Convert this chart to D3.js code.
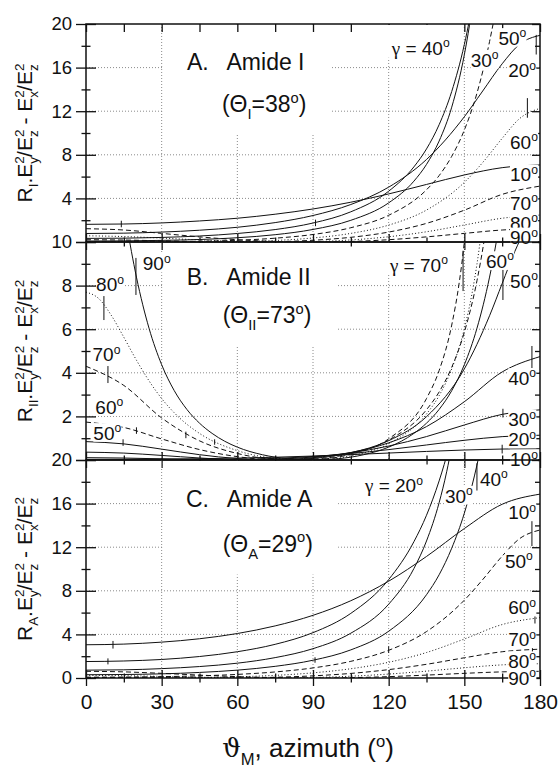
<!DOCTYPE html>
<html>
<head>
<meta charset="utf-8">
<script src="https://cdn.jsdelivr.net/npm/d3@7"></script>
<style>
  body { margin: 0; background: #fff; }
  svg { display: block; font-family: "Liberation Sans", Arial, sans-serif; }
</style>
</head>
<body>
<div id="chart"></div>
<script>
// ---- values: [azimuth (deg), ratio] ----

// A. Amide I, one series per helix tilt gamma
const amideI_g10 = [[0,1.62],[15,1.65],[30,1.75],[45,1.93],[60,2.18],[75,2.55],[90,3.03],[105,3.65],[120,4.41],[135,5.28],[150,6.15],[165,6.82],[180,7.07]];
const amideI_g20 = [[0,.78],[15,.81],[30,.91],[45,1.08],[60,1.35],[75,1.78],[90,2.43],[105,3.44],[120,5.03],[135,7.57],[150,11.49],[157,13.76],[165,16.35],[172,18.16],[180,18.96]];
const amideI_g30 = [[0,.33],[15,.35],[30,.42],[45,.55],[60,.78],[75,1.14],[90,1.74],[105,2.77],[120,4.66],[130,6.89],[135,8.54],[140,10.76],[145,13.81],[150,18.12],[152,20.35],[155,24.4]];
const amideI_g40 = [[0,.09],[15,.10],[30,.15],[45,.23],[60,.39],[75,.67],[90,1.15],[105,1.99],[120,3.59],[130,5.58],[135,7.12],[140,9.26],[145,12.37],[150,17.18],[152,19.83],[155,25.0]];
const amideI_g50 = [[0,.002],[15,.005],[30,.02],[45,.06],[60,.16],[75,.35],[90,.69],[105,1.31],[120,2.45],[135,4.79],[140,6.09],[145,7.86],[150,10.27],[155,13.65],[160,18.39],[162,20.73],[165,24.8]];
const amideI_g60 = [[0,.04],[15,.03],[30,.01],[45,0],[60,.03],[75,.14],[90,.37],[105,.79],[120,1.55],[135,2.93],[150,5.47],[158,7.49],[165,9.51],[172,11.34],[180,12.26]];
const amideI_g70 = [[0,.21],[15,.18],[30,.11],[45,.04],[60,0],[75,.03],[90,.16],[105,.43],[120,.91],[135,1.71],[150,2.92],[165,4.37],[180,5.13]];
const amideI_g80 = [[0,.57],[15,.50],[30,.36],[45,.19],[60,.06],[75,0],[90,.04],[105,.19],[120,.48],[135,.94],[150,1.56],[165,2.18],[180,2.47]];
const amideI_g90 = [[0,1.22],[15,1.10],[30,.79],[45,.47],[60,.21],[75,.05],[90,0],[105,.05],[120,.21],[135,.47],[150,.79],[165,1.10],[180,1.22]];

// B. Amide II
const amideII_g10 = [[0,.03],[15,.033],[30,.043],[45,.06],[60,.088],[75,.128],[90,.181],[105,.246],[120,.319],[135,.393],[150,.458],[165,.503],[180,.519]];
const amideII_g20 = [[0,.006],[15,.003],[30,0],[45,.004],[60,.025],[75,.075],[90,.163],[105,.297],[120,.476],[135,.689],[150,.904],[165,1.072],[180,1.136]];
const amideII_g30 = [[0,.107],[15,.091],[30,.053],[45,.015],[60,0],[75,.034],[90,.137],[105,.331],[120,.64],[135,1.075],[150,1.606],[165,2.093],[180,2.301]];
const amideII_g40 = [[0,.36],[15,.317],[30,.21],[45,.093],[60,.014],[75,.008],[90,.106],[105,.344],[120,.787],[135,1.533],[150,2.673],[165,4.039],[180,4.743]];
const amideII_g50 = [[0,.843],[15,.739],[30,.498],[45,.244],[60,.066],[75,0],[90,.073],[105,.333],[120,.887],[135,1.987],[150,4.179],[160,6.617],[165,8.096],[170,9.561],[172,10.07],[175,10.67]];
const amideII_g60 = [[0,1.739],[15,1.493],[30,.967],[45,.479],[60,.155],[75,.009],[90,.044],[105,.299],[120,.915],[135,2.306],[140,3.119],[145,4.252],[150,5.858],[155,8.22],[158,10.17],[160,11.76]];
const amideII_g70 = [[0,4.3],[15,3.42],[30,1.93],[45,.88],[60,.3],[75,.04],[90,.02],[105,.27],[120,.97],[135,2.82],[140,4.1],[145,6.19],[148,8.16],[150,10.0],[152,12.5]];
const amideII_g80 = [[0,7.7],[5,7.41],[10,6.64],[15,5.63],[20,4.58],[25,3.63],[30,2.82],[37,1.94],[45,1.22],[60,.43],[75,.08],[90,.005],[105,.19],[120,.75],[135,2.11],[140,2.95],[145,4.18],[150,6.02],[153,7.61],[155,8.98],[157,10.67]];
const amideII_g90 = [[15,11.62],[18,9.57],[20,8.39],[25,6.04],[30,4.37],[35,3.18],[40,2.32],[45,1.69],[50,1.22],[55,.86],[60,.59],[70,.24],[75,.13],[80,.06],[90,0],[100,.06],[105,.13],[110,.24],[120,.59],[125,.86],[130,1.22],[135,1.69],[140,2.32],[145,3.18],[150,4.37],[155,6.04],[160,8.39],[162,9.57],[165,11.62]];

// C. Amide A
const amideA_g10 = [[0,3.05],[15,3.11],[30,3.29],[45,3.6],[60,4.08],[75,4.78],[90,5.75],[105,7.09],[120,8.88],[135,11.15],[150,13.71],[165,15.94],[180,16.87]];
const amideA_g20 = [[0,1.51],[15,1.56],[30,1.7],[45,1.97],[60,2.41],[75,3.09],[90,4.16],[105,5.93],[120,9.03],[130,12.5],[135,14.93],[140,18.08],[142,19.58],[145,22.15]];
const amideA_g30 = [[0,.72],[15,.75],[30,.86],[45,1.05],[60,1.36],[75,1.87],[90,2.69],[105,4.11],[120,6.77],[130,10.04],[135,12.57],[140,16.08],[143,18.92],[145,21.23]];
const amideA_g40 = [[0,.3],[15,.32],[30,.38],[45,.51],[60,.72],[75,1.07],[90,1.63],[105,2.58],[120,4.29],[135,7.64],[140,9.47],[145,11.91],[150,15.12],[153,17.6],[155,19.53],[157,21.67]];
const amideA_g50 = [[0,.076],[15,.086],[30,.123],[45,.197],[60,.33],[75,.555],[90,.924],[105,1.53],[120,2.54],[135,4.26],[150,7.14],[157,8.95],[165,11.18],[172,12.8],[180,13.58]];
const amideA_g60 = [[0,.001],[15,.002],[30,.011],[45,.04],[60,.109],[75,.242],[90,.473],[105,.849],[120,1.442],[135,2.337],[150,3.577],[165,4.904],[180,5.536]];
const amideA_g70 = [[0,.05],[15,.041],[30,.018],[45,.001],[60,.01],[75,.068],[90,.197],[105,.421],[120,.769],[135,1.257],[150,1.855],[165,2.409],[180,2.647]];
const amideA_g80 = [[0,.237],[15,.212],[30,.147],[45,.072],[60,.015],[75,.002],[90,.047],[105,.164],[120,.36],[135,.63],[150,.939],[165,1.204],[180,1.311]];
const amideA_g90 = [[0,.614],[15,.562],[30,.428],[45,.266],[60,.125],[75,.032],[90,0],[105,.032],[120,.125],[135,.266],[150,.428],[165,.562],[180,.614]];

// short vertical range bars drawn on some curves: [azimuth, low, high]
const marksA = [[14,1.35,1.95],[91,1.45,2.05],[175,11.4,13.2],[178.5,17.2,19.0]];
const marksB = [[19.8,7.57,9.27],[7.1,6.42,7.52],[8.7,3.53,4.31],[20,1.2,1.5],[14.7,.65,.95],[39.6,1.0,1.3],[51,.7,.95],[149.5,7.75,9.6],[165.3,7.34,8.8],[176.8,4.22,5.23],[165.3,1.95,2.35],[165,.3,.7]];
const marksC = [[10.7,2.7,3.4],[8.7,1.25,1.8],[90.8,1.4,1.9],[120,2.3,2.9],[155,17.2,19.7],[176.8,12.1,15.8],[178,5.0,5.95],[177,2.2,2.8]];

// curve labels: [text, azimuth of left edge, ratio at baseline]
const labelsA = [['γ = 40',121.2,17.18],['30',152.5,16.1],['50',163.5,18.1],['20',167.4,15.1],['60',168.1,8.56],['10',168.1,5.56],['70',168.1,2.94],['80',168.1,1.1],['90',168.1,-.2]];
const labelsB = [['γ = 70',120.5,8.64],['60',158.6,8.81],['50',168.1,7.89],['40',167.4,3.45],['30',167.4,1.55],['20',167.4,.63],['10',168.1,-.29],
                 ['90',22.5,8.7],['80',4.0,7.74],['70',2.6,4.53],['60',3.7,2.12],['50',2.9,.93]];
const labelsC = [['γ = 20',110.6,17.02],['30',142.3,16.1],['40',156.2,17.64],['10',167.4,14.57],['50',166.1,10.12],['60',167.4,5.83],['70',167.4,2.92],['80',167.4,.92],['90',167.4,-.61]];

const gammas = [10, 20, 30, 40, 50, 60, 70, 80, 90];
const xTicks = [0, 30, 60, 90, 120, 150, 180];
const xMinorTicks = [15, 45, 75, 105, 135, 165];

// line style per gamma
const styleAC = {10:'solid',20:'solid',30:'solid',40:'solid',50:'dashed',60:'dotted',70:'dashed',80:'dotted',90:'dashed'};
const styleB  = {10:'solid',20:'solid',30:'solid',40:'solid',50:'solid',60:'dashed',70:'dashed',80:'dotted',90:'solid'};
const dashes = {solid: null, dashed: '5,3', dotted: '1,2.2'};

const panels = [
  {key:'A', name:'A.   Amide I', sub:'I', theta:'38', yMax:20, major:4, minor:2, style:styleAC,
   series:[amideI_g10,amideI_g20,amideI_g30,amideI_g40,amideI_g50,amideI_g60,amideI_g70,amideI_g80,amideI_g90],
   labels:labelsA, marks:marksA, titlePos:[40,15.8], thetaPos:[53.9,11.93]},
  {key:'B', name:'B.   Amide II', sub:'II', theta:'73', yMax:10, major:2, minor:1, style:styleB,
   series:[amideII_g10,amideII_g20,amideII_g30,amideII_g40,amideII_g50,amideII_g60,amideII_g70,amideII_g80,amideII_g90],
   labels:labelsB, marks:marksB, titlePos:[39.9,8.03], thetaPos:[54.2,6.27]},
  {key:'C', name:'C.   Amide A', sub:'A', theta:'29', yMax:20, major:4, minor:2, style:styleAC,
   series:[amideA_g10,amideA_g20,amideA_g30,amideA_g40,amideA_g50,amideA_g60,amideA_g70,amideA_g80,amideA_g90],
   labels:labelsC, marks:marksC, titlePos:[39.6,15.73], thetaPos:[54.2,11.59]}
];

// ---- layout ----
const width = 558, height = 770;
const plotL = 86, plotR = 540, plotTop = 24, panelH = 218;
const ink = '#111';

const svg = d3.select('#chart').append('svg')
  .attr('width', width).attr('height', height)
  .attr('viewBox', `0 0 ${width} ${height}`);

const x = d3.scaleLinear([0, 180], [plotL, plotR]);

// text with sub/superscripts; segs = [[str, kind, family]]
// kind: n normal, sub, sup, stack (subscript placed under the previous superscript)
function richText(parent, segs, size) {
  const t = parent.append('text').attr('font-size', size).style('white-space', 'pre').attr('fill', ink);
  let cur = 0, prev = null;
  segs.forEach(([str, kind, family]) => {
    const s = kind === 'n' ? size : size * 0.64;
    const off = kind === 'sup' ? -0.4 * size : (kind === 'sub' || kind === 'stack') ? 0.3 * size : 0;
    const ts = t.append('tspan').attr('font-size', s).attr('dy', off - cur).text(str);
    if (family) ts.attr('font-family', family);
    if (kind === 'stack' && prev) ts.attr('dx', -prev.node().getComputedTextLength());
    cur = off; prev = ts;
  });
  return t;
}

function degreeSegs(str) {
  if (str.startsWith('γ')) return [['γ', 'n', 'Liberation Serif'], [str.slice(1), 'n'], ['o', 'sup']];
  return [[str, 'n'], ['o', 'sup']];
}

function drawPanel(p, idx) {
  const top = plotTop + idx * panelH, bottom = top + panelH;
  const isLast = idx === panels.length - 1;
  const y = d3.scaleLinear([0, p.yMax], [bottom, top]);
  const g = svg.append('g').attr('class', 'panel-' + p.key);

  const clipId = 'clip-' + p.key;
  svg.append('clipPath').attr('id', clipId).append('rect')
    .attr('x', plotL).attr('y', top).attr('width', plotR - plotL).attr('height', panelH);

  // dotted grid
  const grid = g.append('g').attr('stroke', '#8a8a8a').attr('stroke-width', 1).attr('stroke-dasharray', '1,2');
  grid.selectAll('.gv').data(xTicks.slice(1, -1)).join('line').attr('class', 'gv')
    .attr('x1', d => x(d)).attr('x2', d => x(d)).attr('y1', top).attr('y2', bottom);
  grid.selectAll('.gh').data(d3.range(p.major, p.yMax, p.major)).join('line').attr('class', 'gh')
    .attr('x1', plotL).attr('x2', plotR).attr('y1', d => y(d)).attr('y2', d => y(d));

  const cover = g.append('g'); // white boxes behind the panel title

  // curves
  const lineGen = d3.line().x(d => x(d[0])).y(d => y(d[1])).curve(d3.curveMonotoneX);
  const curves = p.series.map((pts, i) => ({gamma: gammas[i], pts}));
  g.append('g').attr('clip-path', `url(#${clipId})`)
    .selectAll('path').data(curves).join('path')
    .attr('d', d => lineGen(d.pts))
    .attr('fill', 'none').attr('stroke', ink).attr('stroke-width', 1)
    .attr('stroke-dasharray', d => dashes[p.style[d.gamma]]);

  // range bars
  g.append('g').selectAll('line').data(p.marks).join('line')
    .attr('x1', d => x(d[0])).attr('x2', d => x(d[0]))
    .attr('y1', d => y(d[1])).attr('y2', d => y(d[2]))
    .attr('stroke', ink).attr('stroke-width', 1);

  // axes: left (crossing ticks), right (inner ticks), bottom (crossing), top of first panel
  const yMajor = d3.range(0, p.yMax + 0.001, p.major);
  const yMinor = d3.range(p.minor, p.yMax, p.major);
  // the zero of an upper panel sits under the top label of the panel below, so it is not repeated
  const yFmt = d => (d === 0 && !isLast) ? '' : d;
  const left = g.append('g').attr('transform', `translate(${plotL},0)`)
    .call(d3.axisLeft(y).tickValues(yMajor).tickFormat(yFmt).tickSizeInner(10).tickSizeOuter(0).tickPadding(4));
  left.selectAll('.tick line').attr('x1', 10);
  left.selectAll('text').attr('font-size', 18.5).attr('font-family', 'Liberation Sans, Arial, sans-serif').attr('fill', ink);
  const leftMinor = g.append('g').attr('transform', `translate(${plotL},0)`)
    .call(d3.axisLeft(y).tickValues(yMinor).tickFormat('').tickSizeInner(4.5).tickSizeOuter(0));
  leftMinor.selectAll('.tick line').attr('x1', 4.5);

  g.append('g').attr('transform', `translate(${plotR},0)`)
    .call(d3.axisRight(y).tickValues(yMajor).tickFormat('').tickSizeInner(-8).tickSizeOuter(0));
  g.append('g').attr('transform', `translate(${plotR},0)`)
    .call(d3.axisRight(y).tickValues(yMinor).tickFormat('').tickSizeInner(-5).tickSizeOuter(0));

  const bot = g.append('g').attr('transform', `translate(0,${bottom})`)
    .call(d3.axisBottom(x).tickValues(xTicks).tickSizeInner(8).tickSizeOuter(0).tickPadding(8)
      .tickFormat(isLast ? d3.format('d') : ''));
  bot.selectAll('.tick line').attr('y1', -8);
  bot.selectAll('text').attr('font-size', 21).attr('font-family', 'Liberation Sans, Arial, sans-serif').attr('fill', ink);
  const botMinor = g.append('g').attr('transform', `translate(0,${bottom})`)
    .call(d3.axisBottom(x).tickValues(xMinorTicks).tickFormat('').tickSizeInner(4.5).tickSizeOuter(0));
  botMinor.selectAll('.tick line').attr('y1', -4.5);
  if (idx === 0) {
    g.append('g').attr('transform', `translate(0,${top})`)
      .call(d3.axisTop(x).tickValues(xTicks.concat(xMinorTicks)).tickFormat('').tickSizeInner(-8).tickSizeOuter(0));
  }
  g.selectAll('.domain').remove();
  g.selectAll('.tick line').attr('stroke', ink).attr('stroke-width', 1.3);

  // frame
  g.append('rect').attr('x', plotL).attr('y', top).attr('width', plotR - plotL).attr('height', panelH)
    .attr('fill', 'none').attr('stroke', ink).attr('stroke-width', 1.5);

  // curve labels on white
  const labG = g.append('g');
  p.labels.forEach(([str, ax, av]) => {
    const lg = labG.append('g').attr('transform', `translate(${x(ax)},${y(av)})`);
    const t = richText(lg, degreeSegs(str), 19);
    const bb = t.node().getBBox();
    const isGamma = str.startsWith('γ');
    const r = lg.insert('rect', 'text').attr('fill', '#fff');
    if (isGamma) {
      r.attr('x', bb.x - 5).attr('width', bb.width + 8)
        .attr('y', top - y(av) + 1).attr('height', y(av) - top + bb.y + bb.height - 2);
    } else {
      r.attr('x', bb.x).attr('y', bb.y + 2).attr('width', bb.width).attr('height', bb.height - 4);
    }
  });

  // panel title
  const tg = g.append('g');
  richText(tg.append('g').attr('transform', `translate(${x(p.titlePos[0])},${y(p.titlePos[1])})`),
    [[p.name, 'n']], 23);
  richText(tg.append('g').attr('transform', `translate(${x(p.thetaPos[0])},${y(p.thetaPos[1])})`),
    [['(Θ', 'n'], [p.sub, 'sub'], ['=' + p.theta, 'n'], ['o', 'sup'], [')', 'n']], 23);
  const tb = tg.node().getBBox();
  cover.append('rect').attr('fill', '#fff')
    .attr('x', tb.x - 23).attr('y', top + 1)
    .attr('width', tb.width + 48).attr('height', tb.y + tb.height - top + 12);

  // y axis title
  const yt = svg.append('g').attr('transform', `translate(32,${(top + bottom) / 2}) rotate(-90)`);
  richText(yt, [['R', 'n'], [p.sub, 'sub'], ['.', 'n'], ['E', 'n'], ['2', 'sup'], ['y', 'stack'], ['/', 'n'],
    ['E', 'n'], ['2', 'sup'], ['z', 'stack'], [' - ', 'n'], ['E', 'n'], ['2', 'sup'], ['x', 'stack'], ['/', 'n'],
    ['E', 'n'], ['2', 'sup'], ['z', 'stack']], 21).attr('text-anchor', 'middle');
}

panels.forEach(drawPanel);

// x axis title
richText(svg.append('g').attr('transform', `translate(308,757)`),
  [['ϑ', 'n', 'DejaVu Serif'], ['M', 'sub'], [', azimuth (', 'n'], ['o', 'sup'], [')', 'n']], 26)
  .attr('text-anchor', 'middle');
</script>
</body>
</html>
